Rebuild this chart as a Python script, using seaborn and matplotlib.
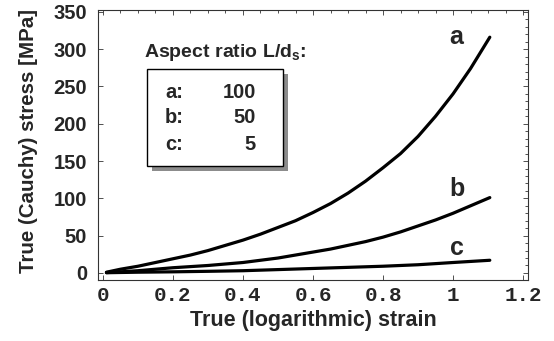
import matplotlib
matplotlib.use("Agg")
import matplotlib.pyplot as plt
import matplotlib.patches as mpatches
from matplotlib.ticker import MultipleLocator
import pandas as pd
import seaborn as sns

# values
strain_a = [0.01, 0.05, 0.1, 0.15, 0.2, 0.25, 0.3, 0.35, 0.4, 0.45, 0.5, 0.55, 0.6,
            0.65, 0.7, 0.75, 0.8, 0.85, 0.9, 0.95, 1.0, 1.05, 1.105]
stress_a = [1, 5, 9, 14, 19, 24, 30, 37, 44, 52, 61, 70, 81,
            93, 107, 123, 141, 160, 183, 210, 240, 274, 316]
strain_b = [0.01, 0.05, 0.1, 0.15, 0.2, 0.25, 0.3, 0.35, 0.4, 0.45, 0.5, 0.55, 0.6,
            0.65, 0.7, 0.75, 0.8, 0.85, 0.9, 0.95, 1.0, 1.05, 1.105]
stress_b = [0.5, 1.5, 3, 5, 7, 8.5, 10, 12, 14, 17, 20, 24, 28,
            32, 37, 42, 48, 55, 63, 71, 80, 90, 101]
strain_c = [0.01, 0.1, 0.2, 0.3, 0.4, 0.5, 0.6, 0.7, 0.8, 0.9, 1.0, 1.105]
stress_c = [0.3, 1, 1.5, 2.2, 3, 4.5, 6, 7.5, 9, 11, 14, 17]
curve_names = ["a", "b", "c"]
aspect_ratios = ["100", "50", "5"]
xticks = [0, 0.2, 0.4, 0.6, 0.8, 1.0, 1.2]
xtick_labels = ["0", "0.2", "0.4", "0.6", "0.8", "1", "1.2"]
yticks = [0, 50, 100, 150, 200, 250, 300, 350]

frames = []
for name, xs, ys in zip(curve_names, [strain_a, strain_b, strain_c], [stress_a, stress_b, stress_c]):
    frames.append(pd.DataFrame({"strain": xs, "stress": ys, "curve": name}))
df = pd.concat(frames, ignore_index=True)

sns.set_style("ticks")
plt.rcParams["font.family"] = ["Liberation Sans", "DejaVu Sans"]
plt.rcParams["font.weight"] = "bold"
plt.rcParams["mathtext.fontset"] = "custom"
plt.rcParams["mathtext.rm"] = "Liberation Sans:bold"
plt.rcParams["mathtext.bf"] = "Liberation Sans:bold"

fig = plt.figure(figsize=(5.54, 3.41), dpi=100)
ax = fig.add_axes([0.177, 0.179, 0.776, 0.792])

sns.lineplot(data=df, x="strain", y="stress", hue="curve", palette=["black"] * 3,
             linewidth=2.3, legend=False, ax=ax, sort=True)

ax.set_xlim(-0.014, 1.214)
ax.set_ylim(-9.4, 352.6)
ax.set_xticks(xticks)
ax.set_xticklabels(xtick_labels, fontfamily="Liberation Mono", fontweight="bold", fontsize=15)
ax.set_yticks(yticks)
ax.tick_params(axis="y", labelsize=14.5, pad=8)
ax.xaxis.set_minor_locator(MultipleLocator(0.05))
ax.yaxis.set_minor_locator(MultipleLocator(10))
ax.tick_params(which="major", direction="in", length=3.5, width=0.6, color="#333333",
               top=True, right=True)
ax.tick_params(axis="x", pad=4)
ax.tick_params(which="minor", direction="in", length=2.5, width=0.6, color="#333333",
               bottom=False, left=False, top=True, right=True)
for sp in ax.spines.values():
    sp.set_linewidth(0.8)
    sp.set_color("#333333")

ax.set_xlabel("True (logarithmic) strain", fontsize=15.5, fontweight="bold", labelpad=4)
ax.set_ylabel("True (Cauchy) stress [MPa]", fontsize=14.8, fontweight="bold", labelpad=11)
ax.yaxis.label.set_y(0.515)

# curve labels
label_pos = {"a": (1.01, 316), "b": (1.01, 112), "c": (1.01, 33)}
for name in curve_names:
    lx, ly = label_pos[name]
    ax.text(lx, ly, name, fontsize=18, fontweight="bold", ha="center", va="center")

# legend-like box with drop shadow
x0, x1, y0, y1 = 0.114, 0.430, 0.422, 0.781
ax.add_patch(mpatches.Rectangle((x0 + 0.012, y0 - 0.019), x1 - x0, y1 - y0,
                                transform=ax.transAxes, facecolor="#8c8c8c",
                                edgecolor="none", zorder=4))
ax.add_patch(mpatches.Rectangle((x0, y0), x1 - x0, y1 - y0, transform=ax.transAxes,
                                facecolor="white", edgecolor="black", linewidth=1.0,
                                zorder=5))
ax.text(0.107, 0.844, r"Aspect ratio L/d$_\mathregular{s}$:", transform=ax.transAxes,
        fontsize=14, fontweight="bold", ha="left", va="center", zorder=6)
row_y = [0.693, 0.600, 0.500]
for name, ratio, ry in zip(curve_names, aspect_ratios, row_y):
    ax.text(0.156, ry, name + ":", transform=ax.transAxes, fontsize=14.5,
            fontweight="bold", ha="left", va="center", zorder=6)
    ax.text(0.367, ry, ratio, transform=ax.transAxes, fontsize=14.5,
            fontweight="bold", ha="right", va="center", zorder=6)

fig.savefig("out.png", dpi=100)
